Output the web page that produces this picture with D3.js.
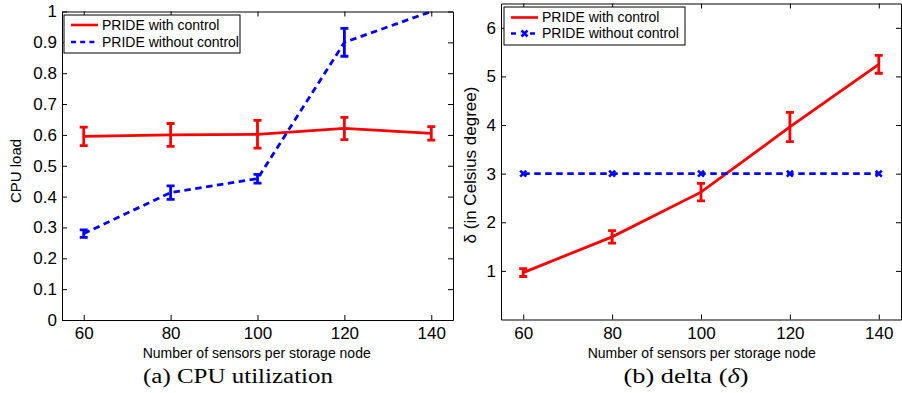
<!DOCTYPE html>
<html>
<head>
<meta charset="utf-8">
<script src="https://cdn.jsdelivr.net/npm/d3@7"></script>
<style>
  body { margin: 0; background: #fff; }
  svg { display: block; }
  text { font-family: "Liberation Sans", Arial, sans-serif; fill: #000; }
</style>
</head>
<body>
<div id="chart"></div>
<script>
// data
var sensors = [60, 80, 100, 120, 140];
var xTicks = [60, 80, 100, 120, 140];

var cpuWith = [0.595, 0.600, 0.602, 0.621, 0.605];
var cpuWithErr = [0.030, 0.037, 0.045, 0.036, 0.022];
var cpuWithout = [0.280, 0.413, 0.458, 0.900, 1.000];
var cpuWithoutErr = [0.012, 0.022, 0.014, 0.045, 0];
var cpuTicks = [0, 0.1, 0.2, 0.3, 0.4, 0.5, 0.6, 0.7, 0.8, 0.9, 1];

var deltaWith = [0.965, 1.70, 2.62, 3.96, 5.25];
var deltaWithErr = [0.08, 0.13, 0.18, 0.30, 0.185];
var deltaWithout = [3, 3, 3, 3, 3];
var deltaTicks = [1, 2, 3, 4, 5, 6];

var seriesNames = ["PRIDE with control", "PRIDE without control"];

function init(){
    var W = 902, H = 393;
    var red = "#ff0000", blue = "#0000ff";

    var svg = d3.select("#chart")
        .append("svg")
        .attr("width", W)
        .attr("height", H);

    function panel(opt){
        var xScale = d3.scaleLinear().domain([55, 145]).range([opt.left, opt.right]);
        var yScale = d3.scaleLinear().domain(opt.yDomain).range([opt.bottom, opt.top]);

        var clipId = "clip" + opt.id;
        svg.append("clipPath").attr("id", clipId)
            .append("rect")
            .attr("x", opt.left).attr("y", opt.top)
            .attr("width", opt.right - opt.left)
            .attr("height", opt.bottom - opt.top);

        var g = svg.append("g").attr("clip-path", "url(#" + clipId + ")");

        var line = d3.line()
            .x(function(d){ return xScale(d.x); })
            .y(function(d){ return yScale(d.y); });

        opt.series.forEach(function(s){
            var pts = sensors.map(function(x, i){
                return {x: x, y: s.values[i], e: s.err ? s.err[i] : 0};
            });
            g.append("path")
                .datum(pts)
                .attr("fill", "none")
                .attr("stroke", s.color)
                .attr("stroke-width", 2.8)
                .attr("stroke-dasharray", s.dash ? "6.5,4.5" : null)
                .attr("d", line);

            pts.forEach(function(p){
                if (p.e > 0) {
                    var cx = xScale(p.x);
                    var y1 = yScale(p.y - p.e), y2 = yScale(p.y + p.e);
                    g.append("line")
                        .attr("x1", cx).attr("x2", cx)
                        .attr("y1", y1).attr("y2", y2)
                        .attr("stroke", s.color).attr("stroke-width", 2.8);
                    [y1, y2].forEach(function(yy){
                        g.append("line")
                            .attr("x1", cx - 4).attr("x2", cx + 4)
                            .attr("y1", yy).attr("y2", yy)
                            .attr("stroke", s.color).attr("stroke-width", 2.8);
                    });
                }
                if (s.marker) {
                    var mx = xScale(p.x), my = yScale(p.y);
                    g.append("path")
                        .attr("d", "M" + (mx - 3) + "," + (my - 3) + "L" + (mx + 3) + "," + (my + 3) +
                                   "M" + (mx - 3) + "," + (my + 3) + "L" + (mx + 3) + "," + (my - 3))
                        .attr("stroke", s.color).attr("stroke-width", 2.6);
                }
            });
        });

        // axes, ticks pointing inwards on all four sides
        var bottom = svg.append("g")
            .attr("transform", "translate(0," + opt.bottom + ")")
            .call(d3.axisBottom(xScale).tickValues(xTicks).tickSizeInner(-5).tickSizeOuter(0).tickPadding(7));
        var top = svg.append("g")
            .attr("transform", "translate(0," + opt.top + ")")
            .call(d3.axisTop(xScale).tickValues(xTicks).tickSizeInner(-5).tickSizeOuter(0).tickFormat(""));
        var left = svg.append("g")
            .attr("transform", "translate(" + opt.left + ",0)")
            .call(d3.axisLeft(yScale).tickValues(opt.yTicks).tickSizeInner(-5).tickSizeOuter(0)
                  .tickPadding(5).tickFormat(function(d){ return d3.format("")(+d.toFixed(1)); }));
        var right = svg.append("g")
            .attr("transform", "translate(" + opt.right + ",0)")
            .call(d3.axisRight(yScale).tickValues(opt.yTicks).tickSizeInner(-5).tickSizeOuter(0).tickFormat(""));

        [bottom, top, left, right].forEach(function(a){
            a.attr("font-family", null).attr("font-size", null);
            a.selectAll("path, line").attr("stroke", "#000").attr("stroke-width", 1);
            a.selectAll("text").style("font-size", "17px");
        });

        // axis labels
        svg.append("text")
            .attr("x", (opt.left + opt.right) / 2 + opt.xLabelShift)
            .attr("y", 358)
            .attr("text-anchor", "middle")
            .style("font-size", "14px")
            .text("Number of sensors per storage node");

        svg.append("text")
            .attr("transform", "translate(" + opt.yLabelX + "," + opt.yLabelY + ") rotate(-90)")
            .attr("text-anchor", "middle")
            .style("font-size", opt.yLabelSize)
            .text(opt.yLabel);

        // legend
        var lg = svg.append("g");
        lg.append("rect")
            .attr("x", opt.legend.x).attr("y", opt.legend.y)
            .attr("width", opt.legend.w).attr("height", opt.legend.h)
            .attr("fill", "#fff").attr("stroke", "#000").attr("stroke-width", 1);
        opt.series.forEach(function(s, i){
            var ly = opt.legend.y + opt.legend.row0 + i * opt.legend.step;
            var lx = opt.legend.x + 7;
            lg.append("line")
                .attr("x1", lx).attr("x2", lx + 27)
                .attr("y1", ly).attr("y2", ly)
                .attr("stroke", s.color).attr("stroke-width", 2.6)
                .attr("stroke-dasharray", s.dash ? (s.marker ? "5,4.5" : "5,4.2") : null);
            if (s.marker) {
                var mx = lx + 13.5;
                lg.append("rect").attr("x", mx - 4).attr("y", ly - 3).attr("width", 8).attr("height", 6).attr("fill", "#fff");
                lg.append("path")
                    .attr("d", "M" + (mx - 3) + "," + (ly - 3) + "L" + (mx + 3) + "," + (ly + 3) +
                               "M" + (mx - 3) + "," + (ly + 3) + "L" + (mx + 3) + "," + (ly - 3))
                    .attr("stroke", s.color).attr("stroke-width", 2.6);
            }
            lg.append("text")
                .attr("x", lx + 31)
                .attr("y", ly)
                .attr("dy", "0.35em")
                .style("font-size", "14px")
                .text(seriesNames[i]);
        });

        // caption (wide serif like Computer Modern)
        var cap = svg.append("text")
            .attr("x", opt.capX)
            .attr("y", 383)
            .attr("text-anchor", "middle")
            .attr("textLength", opt.capW)
            .attr("lengthAdjust", "spacingAndGlyphs")
            .style("font-family", "'Liberation Serif', 'DejaVu Serif', serif")
            .style("font-size", "20px");
        opt.caption.forEach(function(c){
            cap.append("tspan").style("font-style", c.italic ? "italic" : "normal").text(c.t);
        });
    }

    panel({
        id: "a", left: 62, right: 453, top: 11.5, bottom: 320,
        yDomain: [0, 1], yTicks: cpuTicks,
        series: [
            {values: cpuWith, err: cpuWithErr, color: red},
            {values: cpuWithout, err: cpuWithoutErr, color: blue, dash: true}
        ],
        xLabelShift: -0.8,
        yLabel: "CPU load", yLabelX: 21, yLabelY: 171, yLabelSize: "15px",
        legend: {x: 64, y: 15, w: 176, h: 38, row0: 10, step: 17},
        capX: 238, capW: 190,
        caption: [{t: "(a) CPU utilization"}]
    });

    panel({
        id: "b", left: 501, right: 901, top: 3.5, bottom: 319.5,
        yDomain: [0, 6.5], yTicks: deltaTicks,
        series: [
            {values: deltaWith, err: deltaWithErr, color: red},
            {values: deltaWithout, color: blue, dash: true, marker: true}
        ],
        xLabelShift: 0.7,
        yLabel: "δ (in Celsius degree)", yLabelX: 476, yLabelY: 165, yLabelSize: "17px",
        legend: {x: 504, y: 7, w: 181, h: 38, row0: 10.5, step: 16},
        capX: 686, capW: 125,
        caption: [{t: "(b) delta ("}, {t: "δ", italic: true}, {t: ")"}]
    });
}

window.onload = init;
</script>
</body>
</html>
